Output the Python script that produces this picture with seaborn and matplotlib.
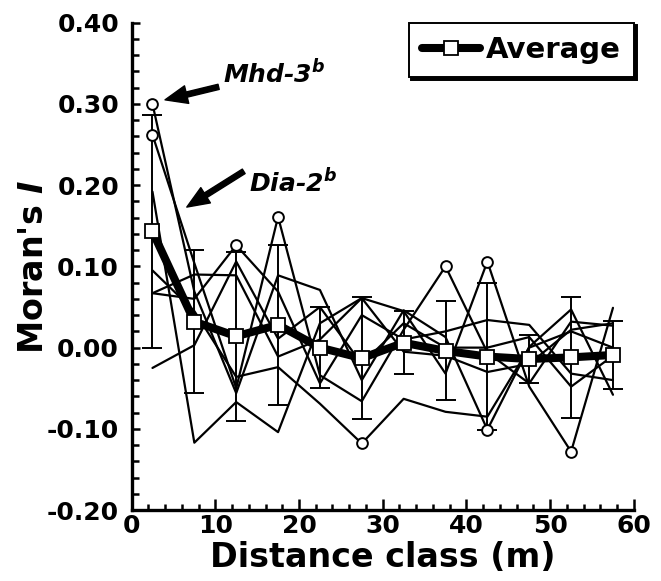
import numpy as np
import pandas as pd
import matplotlib
matplotlib.use("Agg")
import matplotlib.pyplot as plt
import seaborn as sns
from matplotlib.ticker import MultipleLocator, FormatStrFormatter

# Distance classes (midpoints, m)
distance = [2.5, 7.5, 12.5, 17.5, 22.5, 27.5, 32.5, 37.5, 42.5, 47.5, 52.5, 57.5]

# Moran's I per locus
mhd3 = [0.300, 0.069, -0.056, 0.089, 0.071, -0.040, 0.046, 0.013, -0.101, 0.001, 0.047, -0.058]
dia2 = [0.262, 0.104, -0.050, 0.161, -0.034, -0.066, 0.022, 0.100, -0.006, -0.044, 0.032, 0.027]
locus3 = [0.192, -0.117, -0.067, -0.104, 0.030, 0.061, 0.045, -0.032, 0.106, -0.048, -0.128, 0.049]
locus4 = [0.067, 0.060, 0.126, 0.069, -0.044, 0.040, 0.010, 0.020, 0.034, 0.028, -0.032, -0.040]
locus5 = [0.067, 0.090, 0.089, -0.011, 0.010, 0.061, -0.005, -0.010, -0.030, -0.020, 0.022, 0.030]
locus6 = [-0.025, 0.003, 0.106, 0.011, 0.050, -0.020, 0.030, 0.000, 0.000, 0.013, -0.048, -0.010]
locus7 = [0.095, 0.045, -0.036, -0.024, -0.069, -0.118, -0.063, -0.079, -0.085, 0.000, 0.020, 0.000]

# indices of significant values (open circles)
mhd3_sig = [0, 8]
dia2_sig = [0, 3, 7]
locus3_sig = [8, 10]
locus4_sig = [2]
locus5_sig = []
locus6_sig = []
locus7_sig = [5]

# Average over loci with error bars
average = [0.143, 0.032, 0.014, 0.028, 0.000, -0.013, 0.006, -0.004, -0.011, -0.014, -0.012, -0.009]
average_err = [0.143, 0.088, 0.104, 0.098, 0.050, 0.075, 0.039, 0.061, 0.090, 0.030, 0.074, 0.042]

y_ticks = [-0.20, -0.10, 0.00, 0.10, 0.20, 0.30, 0.40]
x_ticks = [0, 10, 20, 30, 40, 50, 60]

loci = {
    "Mhd-3": (mhd3, mhd3_sig),
    "Dia-2": (dia2, dia2_sig),
    "L3": (locus3, locus3_sig),
    "L4": (locus4, locus4_sig),
    "L5": (locus5, locus5_sig),
    "L6": (locus6, locus6_sig),
    "L7": (locus7, locus7_sig),
}
rows = []
for name, (vals, sig) in loci.items():
    for i, (d, v) in enumerate(zip(distance, vals)):
        rows.append({"locus": name, "distance": d, "moran": v, "sig": i in sig})
df = pd.DataFrame(rows)
avg_df = pd.DataFrame({"distance": distance, "moran": average})

sns.set_style("ticks")
plt.rcParams["font.family"] = ["DejaVu Sans"]
plt.rcParams["font.weight"] = "bold"
plt.rcParams["text.color"] = "black"
plt.rcParams["axes.labelcolor"] = "black"
plt.rcParams["xtick.color"] = "black"
plt.rcParams["ytick.color"] = "black"
plt.rcParams["axes.edgecolor"] = "black"
plt.rcParams["axes.unicode_minus"] = False
plt.rcParams["mathtext.fontset"] = "custom"
plt.rcParams["mathtext.it"] = "DejaVu Sans:italic:bold"
plt.rcParams["mathtext.rm"] = "DejaVu Sans:bold"

fig = plt.figure(figsize=(6.61, 5.81), dpi=100)
ax = fig.add_axes([0.199, 0.122, 0.760, 0.839])

sns.lineplot(data=df, x="distance", y="moran", units="locus", estimator=None,
             color="black", lw=1.6, sort=False, legend=False, ax=ax, zorder=2)

ax.errorbar(distance, average, yerr=average_err, fmt="none", ecolor="black",
            elinewidth=1.4, capsize=7.5, capthick=1.4, zorder=3)

sns.lineplot(data=avg_df, x="distance", y="moran", color="black", lw=5.8,
             marker="s", markersize=9.5, markerfacecolor="white",
             markeredgecolor="black", markeredgewidth=1.3, label="Average",
             ax=ax, zorder=4)

sns.scatterplot(data=df[df["sig"]], x="distance", y="moran", marker="o", s=60,
                facecolor="white", edgecolor="black", linewidth=1.4,
                ax=ax, zorder=5, legend=False)

# Locus call-outs
arrow_kw = dict(facecolor="black", edgecolor="black", width=3.8, headwidth=13,
                headlength=16, shrink=0)
ax.annotate("", xy=(4.0, 0.305), xytext=(10.4, 0.321), arrowprops=arrow_kw, zorder=6)
ax.text(10.9, 0.337, r"Mhd-3$^{b}$", fontsize=18, fontstyle="italic",
        fontweight="bold", va="center", ha="left")
ax.annotate("", xy=(6.6, 0.173), xytext=(13.4, 0.217), arrowprops=arrow_kw, zorder=6)
ax.text(14.0, 0.203, r"Dia-2$^{b}$", fontsize=18, fontstyle="italic",
        fontweight="bold", va="center", ha="left")

ax.set_xlim(0, 60)
ax.set_ylim(-0.2, 0.4)
ax.set_xticks(x_ticks)
ax.set_yticks(y_ticks)
ax.yaxis.set_major_formatter(FormatStrFormatter("%.2f"))
ax.xaxis.set_minor_locator(MultipleLocator(2))
ax.yaxis.set_minor_locator(MultipleLocator(0.02))
ax.tick_params(axis="both", which="both", direction="in", width=1.8, labelsize=18)
ax.tick_params(axis="x", which="major", length=8, pad=3)
ax.tick_params(axis="x", which="minor", length=4)
ax.tick_params(axis="y", which="major", length=6, pad=9)
ax.tick_params(axis="y", which="minor", length=5)
for lab in ax.get_xticklabels() + ax.get_yticklabels():
    lab.set_fontweight("bold")

sns.despine(ax=ax)
for side in ("left", "bottom"):
    ax.spines[side].set_linewidth(2.4)

ax.set_xlabel("Distance class (m)", fontsize=24, fontweight="bold", labelpad=2)
ax.set_ylabel(r"Moran's $I$", fontsize=24, fontweight="bold", labelpad=-2)

leg = ax.legend(loc="upper right", bbox_to_anchor=(1.0, 1.0), borderaxespad=0.0,
                frameon=True, fancybox=False, shadow={"color": "black", "alpha": 1.0},
                fontsize=21, handlelength=2.0, handletextpad=0.2,
                borderpad=0.45)
leg.get_frame().set_edgecolor("black")
leg.get_frame().set_linewidth(1.4)
for t in leg.get_texts():
    t.set_fontweight("bold")

fig.savefig("out.png", dpi=100)
